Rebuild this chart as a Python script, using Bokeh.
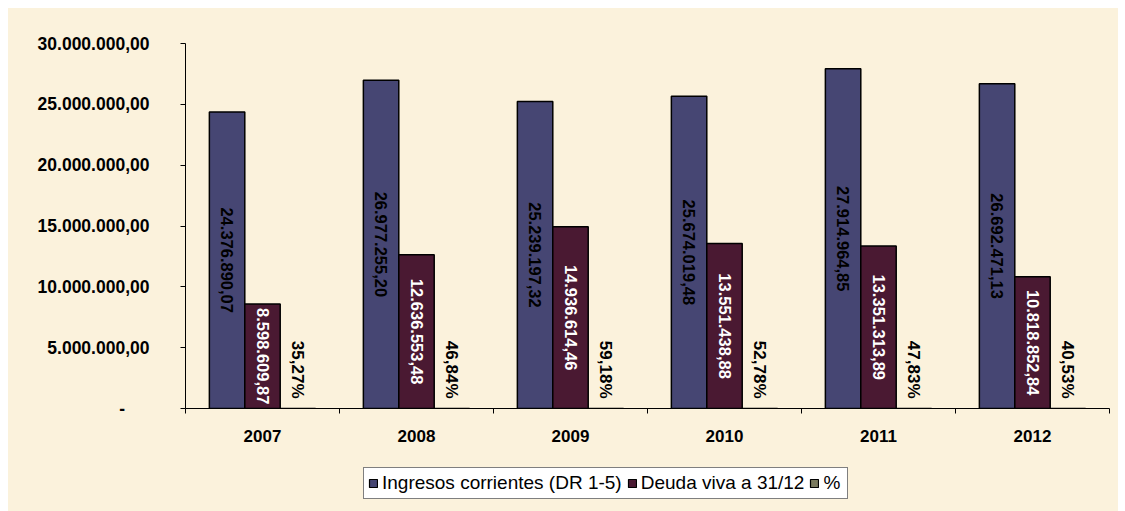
import math
from bokeh.plotting import figure
from bokeh.layouts import column
from bokeh.models import Range1d, FixedTicker, ColumnDataSource, Legend, LegendItem
from bokeh.core.properties import value
from bokeh.embed import file_html
from bokeh.resources import INLINE

years = ["2007", "2008", "2009", "2010", "2011", "2012"]
ingresos = [24376890.07, 26977255.20, 25239197.32, 25674019.48, 27914964.85, 26692471.13]
deuda = [8598609.87, 12636553.48, 14936614.46, 13551438.88, 13351313.89, 10818852.84]
pct = [0.3527, 0.4684, 0.5918, 0.5278, 0.4783, 0.4053]
y_ticks = [0, 5000000, 10000000, 15000000, 20000000, 25000000, 30000000]
series_names = ["Ingresos corrientes (DR 1-5)", "Deuda viva a 31/12", "%"]

FONT = value("Liberation Sans")
BG = "#FBF2DC"
BLUE = "#464673"
MAROON = "#4A1932"
OLIVE = "#7A7A5E"
COLORS = [BLUE, MAROON, OLIVE]


def es_num(v):
    s = f"{v:,.2f}"
    return s.replace(",", "X").replace(".", ",").replace("X", ".")


def es_pct(v):
    return f"{v * 100:.2f}".replace(".", ",") + "%"


n = len(years)
centers = [i + 0.5 for i in range(n)]
w = 0.23

src = ColumnDataSource(dict(
    xb=[c - w for c in centers],
    xd=centers,
    xp=[c + w for c in centers],
    ing=ingresos,
    deu=deuda,
    pct=pct,
    ing_mid=[v / 2 for v in ingresos],
    deu_mid=[v / 2 for v in deuda],
    ing_lab=[es_num(v) for v in ingresos],
    deu_lab=[es_num(v) for v in deuda],
    pct_lab=[es_pct(v) for v in pct],
))
bar_cols = ["xb", "xd", "xp"]
bar_tops = ["ing", "deu", "pct"]

p = figure(width=1110, height=455, output_backend="svg", toolbar_location=None,
           x_range=Range1d(0, n), y_range=Range1d(0, 30000000),
           min_border_left=177, min_border_right=9, min_border_top=35, min_border_bottom=55)
p.background_fill_color = BG
p.border_fill_color = BG
p.outline_line_color = None
p.xgrid.grid_line_color = None
p.ygrid.grid_line_color = None

for xc, tc, col in zip(bar_cols, bar_tops, COLORS):
    p.vbar(x=xc, top=tc, width=w, source=src, fill_color=col, line_color="black", line_width=1.5)

p.text(x="xb", y="ing_mid", text="ing_lab", source=src, angle=-math.pi / 2,
       text_align="center", text_baseline="middle", text_font=FONT,
       text_font_size="16.5px", text_font_style="bold", text_color="black")
p.text(x="xd", y="deu_mid", text="deu_lab", source=src, angle=-math.pi / 2,
       text_align="center", text_baseline="middle", text_font=FONT,
       text_font_size="16.5px", text_font_style="bold", text_color="white")
p.text(x="xp", y="pct", text="pct_lab", source=src, angle=-math.pi / 2, y_offset=-10,
       text_align="right", text_baseline="middle", text_font=FONT,
       text_font_size="17px", text_font_style="bold", text_color="black")

# x axis: labels centred, ticks between categories
xa = p.xaxis[0]
xa.ticker = FixedTicker(ticks=centers, minor_ticks=list(range(n + 1)))
xa.major_label_overrides = {c: y for c, y in zip(centers, years)}
xa.major_tick_out = 0
xa.major_tick_in = 0
xa.minor_tick_out = 5
xa.minor_tick_in = 0
xa.minor_tick_line_color = "black"
xa.axis_line_color = "black"
xa.major_label_standoff = 16
xa.major_label_text_font = "Liberation Sans"
xa.major_label_text_font_size = "17px"
xa.major_label_text_font_style = "bold"
xa.major_label_text_color = "black"

ya = p.yaxis[0]
ya.ticker = FixedTicker(ticks=y_ticks)
ya.major_label_overrides = {t: (es_num(t) if t else "-\u00a0\u00a0\u00a0\u00a0\u00a0") for t in y_ticks}
ya.major_tick_out = 5
ya.major_tick_in = 0
ya.minor_tick_line_color = None
ya.axis_line_color = "black"
ya.major_tick_line_color = "black"
ya.major_label_standoff = 31
ya.major_label_text_font = "Liberation Sans"
ya.major_label_text_font_size = "17.5px"
ya.major_label_text_font_style = "bold"
ya.major_label_text_color = "black"

# legend strip below the chart; its bars lie far outside its visible range,
# so only the legend swatches show
q = figure(width=1110, height=48, output_backend="svg", toolbar_location=None,
           x_range=Range1d(0, n), y_range=Range1d(40000000, 40000001),
           x_axis_type=None, y_axis_type=None,
           min_border_left=0, min_border_right=0, min_border_top=0, min_border_bottom=0)
q.background_fill_color = BG
q.border_fill_color = BG
q.outline_line_color = None
q.xgrid.grid_line_color = None
q.ygrid.grid_line_color = None

items = []
for name, xc, tc, col in zip(series_names, bar_cols, bar_tops, COLORS):
    r = q.vbar(x=xc, top=tc, width=w, source=src, fill_color=col,
               line_color="black", line_width=1.2)
    items.append(LegendItem(label=name, renderers=[r]))

lg = Legend(items=items, location=(178, 12), orientation="horizontal",
            label_text_font="Liberation Sans", label_text_font_size="19px",
            label_text_color="black", glyph_width=10, glyph_height=10,
            label_standoff=4, spacing=5, padding=4, margin=0, label_height=19,
            border_line_color="black", border_line_width=1,
            background_fill_color="white", background_fill_alpha=1)
q.add_layout(lg, "center")

layout = column(p, q, spacing=0,
                styles={"margin-left": "8px", "margin-top": "8px", "background-color": BG})

open("out.html", "w").write(file_html(layout, INLINE))
